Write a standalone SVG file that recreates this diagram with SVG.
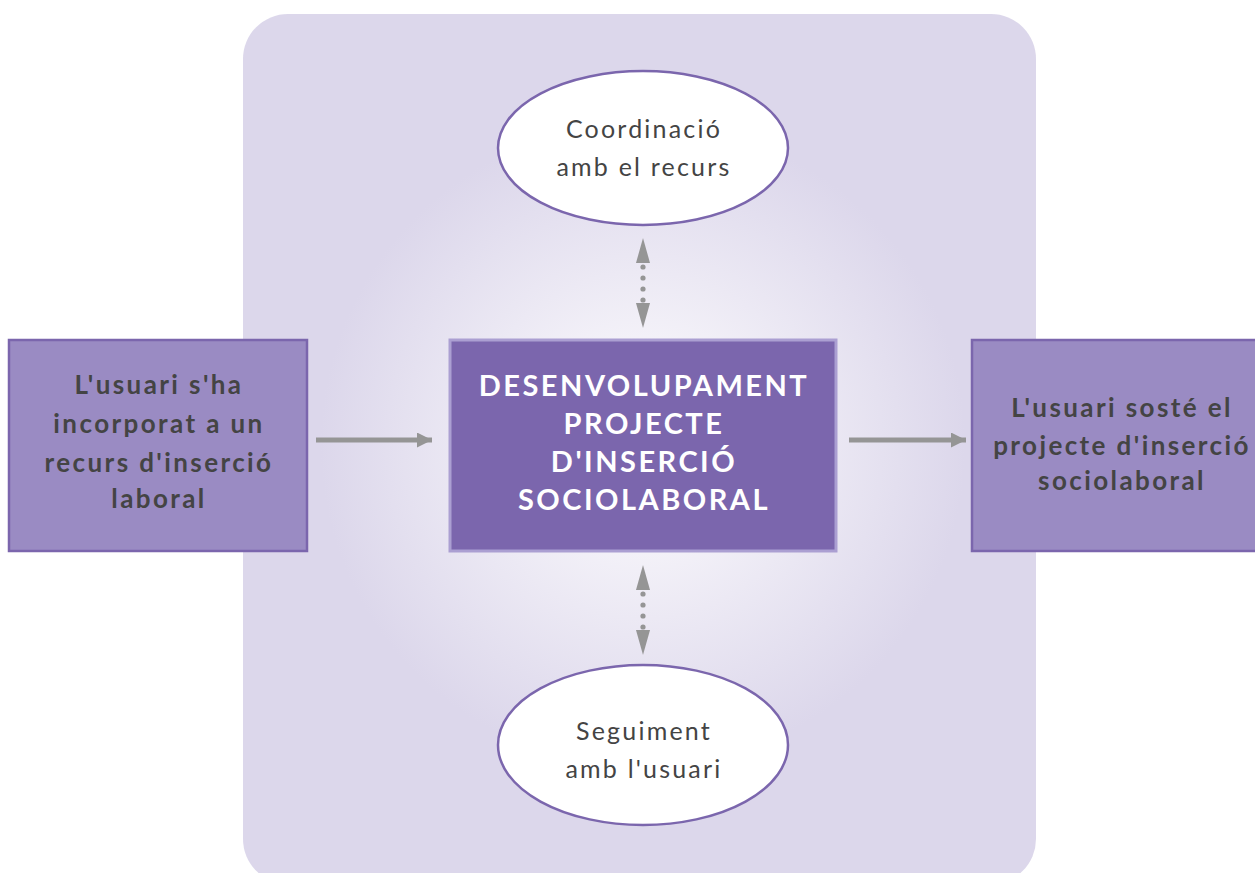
<svg xmlns="http://www.w3.org/2000/svg" width="1255" height="873" viewBox="0 0 1255 873">
<defs>
<radialGradient id="bg" cx="643" cy="445" r="430" gradientUnits="userSpaceOnUse">
<stop offset="0" stop-color="#ffffff"/>
<stop offset="0.25" stop-color="#f3f1f8"/>
<stop offset="0.75" stop-color="#dcd7eb"/>
<stop offset="1" stop-color="#dcd7eb"/>
</radialGradient>
<marker id="ah" viewBox="0 0 10 10" refX="10" refY="5" markerWidth="5" markerHeight="3" orient="auto-start-reverse" markerUnits="strokeWidth">
<path d="M0,0 L10,5 L0,10 Z" fill="#959595"/>
</marker>
</defs>
<style>
.side{fill:#9a8bc3;stroke:#7b66ad;stroke-width:2.5}
.center{fill:#7b66ad;stroke:#ab9fd2;stroke-width:3}
.ell{fill:#ffffff;stroke:#7b66ad;stroke-width:2.5}
.st{font-family:"Lato","Liberation Sans",sans-serif;font-weight:bold;font-size:26px;fill:#444444;text-anchor:middle;letter-spacing:2.4px}
.ct{font-family:"Lato","Liberation Sans",sans-serif;font-weight:bold;font-size:29px;fill:#ffffff;text-anchor:middle;letter-spacing:2.5px}
.et{font-family:"Lato","Liberation Sans",sans-serif;font-weight:normal;font-size:25px;fill:#444444;text-anchor:middle;letter-spacing:2.2px}
.ha{stroke:#959595;stroke-width:5;fill:none}
.va{fill:#959595}
</style>
<rect x="243" y="14" width="793" height="870" rx="45" ry="45" fill="url(#bg)"/>
<g id="connectors">
<line class="ha" x1="316" y1="440" x2="432" y2="440" marker-end="url(#ah)"/>
<line class="ha" x1="849" y1="440" x2="966" y2="440" marker-end="url(#ah)"/>
<g id="v-top">
<path class="va" d="M643,238 L650,263 L636,263 Z"/>
<path class="va" d="M643,328 L650,303 L636,303 Z"/>
<circle class="va" cx="643" cy="267" r="2.6"/>
<circle class="va" cx="643" cy="278" r="2.6"/>
<circle class="va" cx="643" cy="289" r="2.6"/>
<circle class="va" cx="643" cy="300" r="2.6"/>
</g>
<g id="v-bottom">
<path class="va" d="M643,565 L650,590 L636,590 Z"/>
<path class="va" d="M643,655 L650,630 L636,630 Z"/>
<circle class="va" cx="643" cy="594" r="2.6"/>
<circle class="va" cx="643" cy="605" r="2.6"/>
<circle class="va" cx="643" cy="616" r="2.6"/>
<circle class="va" cx="643" cy="627" r="2.6"/>
</g>
</g>
<g id="node-left">
<rect class="side" x="9" y="340" width="298" height="211"/>
<text class="st" x="159" y="394">L'usuari s'ha</text>
<text class="st" x="159" y="433">incorporat a un</text>
<text class="st" x="159" y="472">recurs d'inserció</text>
<text class="st" x="159" y="508">laboral</text>
</g>
<g id="node-center">
<rect class="center" x="450" y="340" width="386" height="211"/>
<text class="ct" x="644" y="396">DESENVOLUPAMENT</text>
<text class="ct" x="644" y="434">PROJECTE</text>
<text class="ct" x="644" y="472">D'INSERCIÓ</text>
<text class="ct" x="644" y="510">SOCIOLABORAL</text>
</g>
<g id="node-right">
<rect class="side" x="972" y="340" width="290" height="211"/>
<text class="st" x="1122" y="417">L'usuari sosté el</text>
<text class="st" x="1122" y="455">projecte d'inserció</text>
<text class="st" x="1122" y="490">sociolaboral</text>
</g>
<g id="node-top">
<ellipse class="ell" cx="643" cy="148" rx="145" ry="77"/>
<text class="et" x="644" y="138">Coordinació</text>
<text class="et" x="644" y="176">amb el recurs</text>
</g>
<g id="node-bottom">
<ellipse class="ell" cx="643" cy="745" rx="145" ry="80"/>
<text class="et" x="644" y="740">Seguiment</text>
<text class="et" x="644" y="778">amb l'usuari</text>
</g>
</svg>
